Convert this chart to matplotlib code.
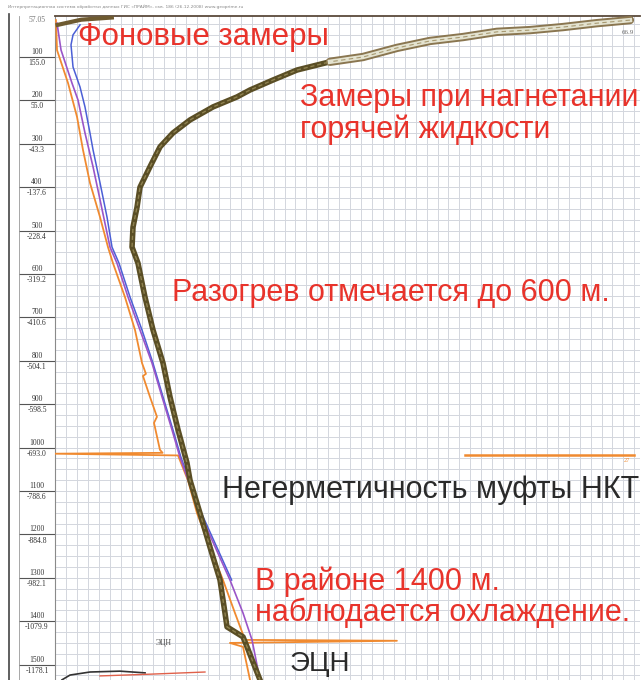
import matplotlib
matplotlib.use("Agg")
import matplotlib.pyplot as plt
from matplotlib.lines import Line2D
import numpy as np

# ---- depth track labels ----
depth_marks = [100, 200, 300, 400, 500, 600, 700, 800, 900, 1000, 1100, 1200, 1300, 1400, 1500]
elev_marks = ["155.0", "55.0", "-43.3", "-137.6", "-228.4", "-319.2", "-410.6", "-504.1",
              "-598.5", "-693.0", "-788.6", "-884.8", "-982.1", "-1079.9", "-1178.1"]

# ---- background temperature surveys (T, depth) ----
bg_orange_t = [0.11, 0.23, 1.49, 2.52, 3.20, 4.00, 5.15, 6.06, 6.63, 8.00, 9.15, 9.95, 10.40, 10.06,
               10.86, 11.66, 11.32, 12.0, 12.3, 0.0, 14.07, 14.5, 15.2, 16.24, 17.72, 19.21, 20.58,
               21.73, 39.1, 20.0, 21.5, 22.3]
bg_orange_d = [15, 84, 160, 238, 314, 390, 469, 538, 575, 653, 729, 805, 830, 835,
               883, 929, 943, 1005, 1012, 1014, 1018, 1040, 1075, 1151, 1229, 1305, 1381,
               1443, 1445, 1450, 1459, 1535]

bg_purple_t = [0.23, 0.69, 1.94, 2.63, 3.43, 4.35, 5.15, 6.29, 7.09, 8.35, 9.72, 11.09, 12.24,
               13.38, 14.29, 16.58, 20.01, 21.50, 22.53, 23.44]
bg_purple_d = [22, 84, 160, 199, 275, 353, 429, 538, 575, 653, 729, 805, 883,
               959, 1022, 1151, 1305, 1381, 1443, 1535]

bg_blue_t = [2.86, 2.06, 1.83, 2.06, 2.86, 3.43, 4.00, 4.35, 5.15, 5.95, 6.52, 7.32, 8.58, 9.95,
             11.20, 12.35, 13.49, 14.40, 16.75, 20.2]
bg_blue_d = [26, 49, 72, 123, 169, 215, 275, 314, 390, 469, 538, 575, 653, 729,
             805, 883, 959, 1022, 1151, 1305]

# ---- survey during hot fluid injection ----
hot_t = [65.75, 61.98, 58.09, 54.32, 50.54, 46.66, 42.88, 39.11, 35.22, 31.45, 27.67, 24.93,
         22.30, 20.81, 18.07, 15.44, 13.49, 12.01, 10.86, 9.72, 9.38, 8.92, 8.81, 9.49, 10.29,
         11.21, 12.35, 13.15, 14.07, 15.09, 15.44, 16.58, 17.72, 18.87, 19.44, 19.67, 21.50,
         21.96, 23.44]
hot_d = [15, 22, 31, 38, 42, 54, 63, 79, 100, 111, 130, 153,
         176, 192, 215, 245, 275, 307, 353, 400, 446, 492, 538, 575, 653,
         729, 805, 883, 959, 1035, 1075, 1151, 1229, 1305, 1381, 1413, 1436,
         1459, 1535]
hot_top_t = [0.3, 3.0, 6.5]
hot_top_d = [26, 14, 9]

# ---- other tracks near the pump ----
right_mark_t = [46.9, 66.2]
right_mark_d = [1016, 1016]
pump_dark_t = [0.8, 1.72, 4.0, 7.43, 10.3]
pump_dark_d = [1535, 1524, 1517, 1515, 1519]
pump_red_t = [5.15, 10.86, 17.15]
pump_red_d = [1526, 1522, 1517]

W, H = 644, 680
fig = plt.figure(figsize=(W / 100, H / 100), dpi=100)
fig.patch.set_facecolor("white")


def fx(px):
    return px / W


def fy(py):
    return 1 - py / H


TOP = 16
D_TOP, D_BOT = 5.5, 1535.4

ax = fig.add_axes([fx(55), 0, fx(640) - fx(55), fy(TOP)])
ax.set_xlim(0, 66.9)
ax.set_ylim(D_BOT, D_TOP)
ax.set_xticks(np.arange(0, 66.9, 1.25))
ax.set_yticks(np.arange(25, 1536, 25))
ax.grid(True, color="#d3d6dd", lw=0.7)
ax.tick_params(length=0, labelleft=False, labelbottom=False)
for s in ["bottom", "right"]:
    ax.spines[s].set_visible(False)
ax.spines["left"].set_color("#8a8a8a")
ax.spines["left"].set_linewidth(0.8)
ax.spines["top"].set_color("#5b4a3a")
ax.spines["top"].set_linewidth(1.3)

# background curves
ax.plot(bg_blue_t, bg_blue_d, color="#4b5fd6", lw=1.1, zorder=3)
ax.plot(bg_orange_t, bg_orange_d, color="#f08a30", lw=1.3, zorder=4)
ax.plot(bg_purple_t, bg_purple_d, color="#9a55c8", lw=1.2, zorder=4)

# hot fluid curve: dark olive trace with a lighter core; ribbon-like in the hottest part
ax.plot(hot_t, hot_d, color="#5a4e25", lw=4.0, solid_joinstyle="round", zorder=5)
ax.plot(hot_t, hot_d, color="#8f8250", lw=1.0, ls=(0, (3, 2)), zorder=6)
n_top = 10
ax.plot(hot_t[:n_top], hot_d[:n_top], color="#8a7650", lw=6.0, solid_capstyle="round", zorder=5)
ax.plot(hot_t[:n_top], hot_d[:n_top], color="#e4e3d0", lw=3.2, zorder=6)
ax.plot(hot_t[:n_top], hot_d[:n_top], color="#a89a72", lw=0.8, ls=(0, (4, 3)), zorder=7)
ax.plot(hot_top_t, hot_top_d, color="#6e5a30", lw=3.0, zorder=5)

# other tracks
ax.plot(right_mark_t, right_mark_d, color="#f08a30", lw=1.8, zorder=4)
ax.plot(pump_dark_t, pump_dark_d, color="#333333", lw=1.2, zorder=4)
ax.plot(pump_red_t, pump_red_d, color="#e0604a", lw=1.0, zorder=4)

# depth column
axl = fig.add_axes([fx(19), 0, fx(55) - fx(19), fy(TOP)])
axl.set_ylim(D_BOT, D_TOP)
axl.set_xlim(0, 1)
axl.axis("off")
for d, e in zip(depth_marks, elev_marks):
    axl.axhline(d, color="#555555", lw=0.8)
    axl.text(0.5, d - 11.5, str(d), ha="center", va="center", fontsize=5.5,
             family="Liberation Serif", color="#333333")
    axl.text(0.5, d + 14, e, ha="center", va="center", fontsize=5.5,
             family="Liberation Serif", color="#333333")
axl.text(0.5, 15, "57.05", ha="center", va="center", fontsize=5.5,
         family="Liberation Serif", color="#777777")

fig.add_artist(Line2D([fx(9), fx(9)], [0, fy(14)], color="#444444", lw=1.2))
fig.add_artist(Line2D([fx(19), fx(19)], [0, fy(16)], color="#999999", lw=0.6))

fig.text(fx(8), fy(7), "Интерпретационная система обработки данных ГИС «ПРАЙМ», скв. 186 (26.12.2008) www.geoprime.ru",
         fontsize=3.2, color="#888888", va="center")
fig.text(fx(622), fy(33), "66.9", fontsize=5, color="#666666", va="center", family="Liberation Serif")
fig.text(fx(624), fy(461), "27", fontsize=4.5, color="#f08a30", va="center", family="Liberation Serif")
fig.text(fx(156), fy(643), "ЭЦН", fontsize=5.5, color="#444444", va="center", family="Liberation Serif")

red = "#e8332b"
sans = "Liberation Sans"
fig.text(fx(78), fy(37), "Фоновые замеры", fontsize=22.5, color=red, va="center", family=sans)
fig.text(fx(300), fy(98), "Замеры при нагнетании", fontsize=22, color=red, va="center", family=sans)
fig.text(fx(300), fy(130), "горячей жидкости", fontsize=22, color=red, va="center", family=sans)
fig.text(fx(172), fy(293), "Разогрев отмечается до 600 м.", fontsize=22, color=red, va="center", family=sans)
fig.text(fx(222), fy(490), "Негерметичность муфты НКТ", fontsize=22, color="#2a2a2a", va="center", family=sans)
fig.text(fx(255), fy(582), "В районе 1400 м.", fontsize=22, color=red, va="center", family=sans)
fig.text(fx(255), fy(613), "наблюдается охлаждение.", fontsize=22, color=red, va="center", family=sans)
fig.text(fx(290), fy(664), "ЭЦН", fontsize=20, color="#2a2a2a", va="center", family=sans)

fig.savefig("out.png", dpi=100)
